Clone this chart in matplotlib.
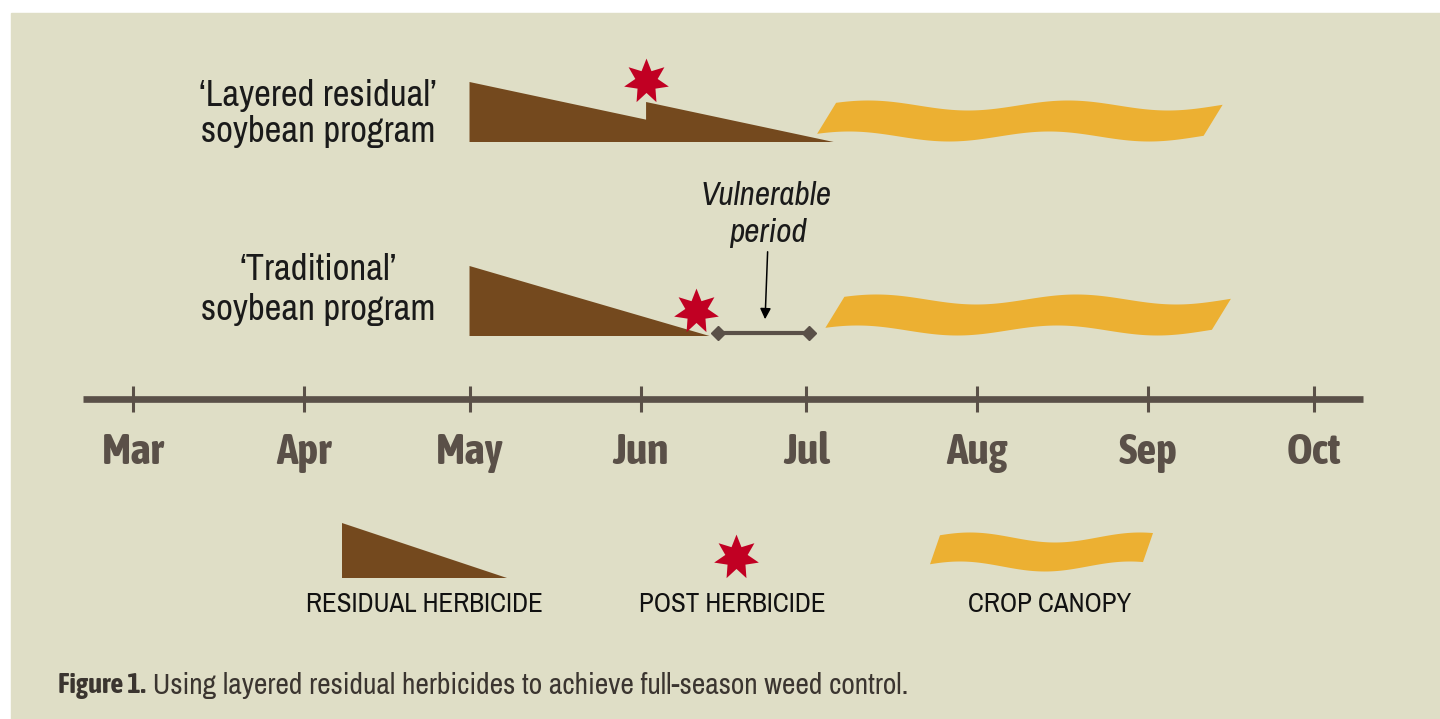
import numpy as np
import matplotlib
matplotlib.use('Agg')
import matplotlib.pyplot as plt
from matplotlib.patches import Polygon, Rectangle

# ---- data (days counted from Mar 1) ----
months = ['Mar', 'Apr', 'May', 'Jun', 'Jul', 'Aug', 'Sep', 'Oct']
month_day = [0, 31, 61, 92, 122, 153, 184, 214]

program_labels = [['‘Layered residual’', 'soybean program'],
                  ['‘Traditional’', 'soybean program']]
# residual herbicide layers: start day, end day, relative level
layered_res_start = [61, 93]
layered_res_end = [112, 127]
layered_res_level = [60, 40]
trad_res_start = [61]
trad_res_end = [104.5]
trad_res_level = [70]
post_day = [93, 102]          # layered, traditional
canopy_start = [124, 125.5]
canopy_end = [197.5, 199]
vulnerable = [106, 122.5]

legend_labels = ['RESIDUAL HERBICIDE', 'POST HERBICIDE', 'CROP CANOPY']
caption_bold = 'Figure 1.'
caption_text = ' Using layered residual herbicides to achieve full-season weed control.'

# ---- styles ----
bg = '#dfdec6'
brown = '#74491e'
gold = '#ecb032'
red = '#c10023'
axis_col = '#5a5048'
font = ['Archivo Narrow', 'DejaVu Sans']
font_bold = ['Asap Condensed', 'DejaVu Sans']

fig = plt.figure(figsize=(14.4, 7.19), dpi=100, facecolor='white')

# overlay in pixel units for background, labels and legend
ov = fig.add_axes([0, 0, 1, 1])
ov.set_xlim(0, 1440)
ov.set_ylim(719, 0)
ov.axis('off')
ov.add_patch(Rectangle((11, 13), 1440, 719, color=bg, zorder=0))

# timeline axes: x in days, y in pixel rows
ax = fig.add_axes([0, 0, 1, 1])
ax.patch.set_alpha(0)
ax.set_xlim(-24.1, 236.9)
ax.set_ylim(719, 0)
ax.axis('off')
ppd = ax.transData.transform((1, 0))[0] - ax.transData.transform((0, 0))[0]

row_base = [142, 336]
label_y = [(96, 131), (270, 310)]
axis_y = 399


def ribbon(a, x0, x1, yc, h, slant, amp, period, phase, upx=1.0):
    L = (x1 - x0) / upx - slant
    s = np.linspace(0, L, 150)
    w = -amp * np.cos(2 * np.pi * (s - phase) / period)
    top = list(zip(x0 + (s + slant) * upx, yc - h / 2 + w))
    bot = list(zip(x0 + s * upx, yc + h / 2 + w))
    a.add_patch(Polygon(top + bot[::-1], closed=True, color=gold, lw=0, zorder=2))


def residual(a, start, end, level, base):
    a.add_patch(Polygon([(start, base), (start, base - level), (end, base)],
                        closed=True, color=brown, lw=0, zorder=2))


def level_at(day, starts, ends, levels):
    v = 0
    for s, e, l in zip(starts, ends, levels):
        if s <= day <= e:
            v = max(v, l * (e - day) / (e - s))
    return v


res_sets = [(layered_res_start, layered_res_end, layered_res_level),
            (trad_res_start, trad_res_end, trad_res_level)]

for i, (st, en, lv) in enumerate(res_sets):
    base = row_base[i]
    for s, e, l in zip(st, en, lv):
        residual(ax, s, e, l, base)
    top = level_at(post_day[i], st, en, lv)
    ax.plot(post_day[i], base - top - 21, marker=(7, 1, 0), ms=33, color=red,
            mew=0, zorder=4)
    ribbon(ax, canopy_start[i], canopy_end[i], base - 21, 31, 19, 5, 200, 32, 1 / ppd)
    for txt, y in zip(program_labels[i], label_y[i]):
        ov.text(318, y, txt, ha='center', va='center', fontsize=26.4, family=font,
                color='#1a1a1a')

# vulnerable period
vb = row_base[1] - 3
ax.plot(vulnerable, [vb, vb], color=axis_col, lw=3, marker='D', ms=7.5, zorder=3)
mid = (vulnerable[0] + vulnerable[1]) / 2
ax.annotate('', xy=(mid + 0.3, vb - 11), xytext=(mid + 0.8, vb - 84),
            arrowprops=dict(arrowstyle='-|>', color='black', lw=1.1, mutation_scale=16))
ax.text(mid + 0.5, 196, 'Vulnerable', ha='center', va='center', style='italic',
        fontsize=24, family=font, color='#1a1a1a')
ax.text(mid + 0.8, 233, 'period', ha='center', va='center', style='italic',
        fontsize=24, family=font, color='#1a1a1a')

# timeline axis
ax.axhline(axis_y, xmin=83 / 1440, xmax=1363 / 1440, color=axis_col, lw=4.8,
           solid_capstyle='butt')
ax.vlines(month_day, axis_y - 13, axis_y + 13, color=axis_col, lw=2.2)
for d, m in zip(month_day, months):
    ax.text(d, 452, m, ha='center', va='center', fontsize=31.5, fontweight='bold',
            family=font_bold, color=axis_col)

# legend
ov.add_patch(Polygon([(342, 523), (342, 578), (507, 578)], closed=True, color=brown, lw=0))
ov.plot(736, 557, marker=(7, 1, 0), ms=33, color=red, mew=0)
ribbon(ov, 930, 1153, 552, 29, 10, 5, 170, 30)
for x, lab in zip([424, 732, 1050], legend_labels):
    ov.text(x, 604, lab, ha='center', va='center', fontsize=19.4, family=font,
            color='#111111')

# caption
t1 = ov.text(58, 693, caption_bold, ha='left', va='baseline', fontsize=20.5,
             fontweight='bold', family=font_bold, color='#3b3530')
ov.annotate(caption_text, xy=(1, 0), xycoords=t1, ha='left', va='bottom',
            fontsize=21.3, family=font, color='#3b3530')

fig.savefig('out.png', dpi=100, facecolor='white')
